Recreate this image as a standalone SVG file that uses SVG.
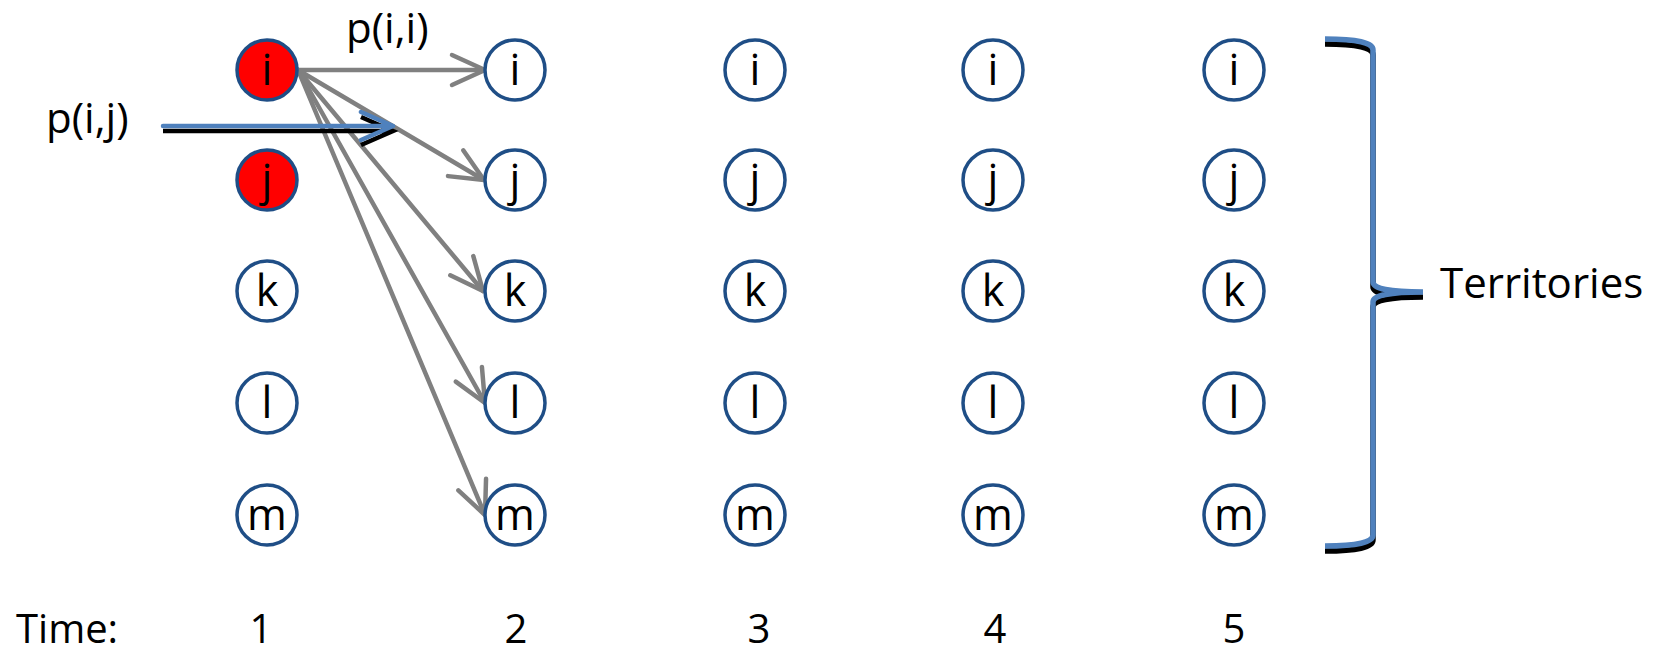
<svg xmlns="http://www.w3.org/2000/svg" width="1657" height="654" viewBox="0 0 1657 654">
<style>
  .n { fill: #ffffff; stroke: #1F4E86; stroke-width: 3.5; }
  .r { fill: #FF0000; }
  .t { font-family: "Open Sans", "Liberation Sans", sans-serif; font-size: 43px; fill: #000; text-anchor: middle; }
  .lbl { font-family: "Open Sans", "Liberation Sans", sans-serif; font-size: 42px; fill: #000; }
  .tm { font-family: "Open Sans", "Liberation Sans", sans-serif; font-size: 40px; fill: #000; }
  .g { stroke: #808080; stroke-width: 4.5; fill: none; stroke-linecap: round; }
</style>
<defs>
  <marker id="ag" markerUnits="userSpaceOnUse" markerWidth="50" markerHeight="50" viewBox="-40 -25 50 50" refX="0" refY="0" orient="auto">
    <path d="M -33,-15 L 0,0 L -33,15" fill="none" stroke="#808080" stroke-width="4.5" stroke-linecap="round" stroke-linejoin="round"/>
  </marker>
</defs>
<rect width="1657" height="654" fill="#ffffff"/>

<g id="connectors">
  <line class="g" x1="298" y1="70" x2="485" y2="70" marker-end="url(#ag)"/>
  <line class="g" x1="298" y1="70" x2="484" y2="180" marker-end="url(#ag)"/>
  <line class="g" x1="298" y1="70" x2="483" y2="291" marker-end="url(#ag)"/>
  <line class="g" x1="298" y1="70" x2="485" y2="403" marker-end="url(#ag)"/>
  <line class="g" x1="298" y1="70" x2="485" y2="515" marker-end="url(#ag)"/>
  <g id="pij-arrow" fill="none" stroke-width="4.5">
    <path d="M 163,131 L 393,131 M 361,117 L 393,131 L 361,145" stroke="#000000"/>
    <path d="M 163,126 L 393,126 M 361,112 L 393,126 L 361,140" stroke="#4F81BD" stroke-linecap="round" stroke-linejoin="round"/>
  </g>
</g>

<g id="node-1i"><circle class="n r" cx="267" cy="70" r="30"/><text class="t" x="267" y="85">i</text></g>
<g id="node-1j"><circle class="n r" cx="267" cy="180" r="30"/><text class="t" x="267" y="195">j</text></g>
<g id="node-1k"><circle class="n" cx="267" cy="291" r="30"/><text class="t" x="267" y="306">k</text></g>
<g id="node-1l"><circle class="n" cx="267" cy="403" r="30"/><text class="t" x="267" y="418">l</text></g>
<g id="node-1m"><circle class="n" cx="267" cy="515" r="30"/><text class="t" x="267" y="530">m</text></g>

<g id="node-2i"><circle class="n" cx="515" cy="70" r="30"/><text class="t" x="515" y="85">i</text></g>
<g id="node-2j"><circle class="n" cx="515" cy="180" r="30"/><text class="t" x="515" y="195">j</text></g>
<g id="node-2k"><circle class="n" cx="515" cy="291" r="30"/><text class="t" x="515" y="306">k</text></g>
<g id="node-2l"><circle class="n" cx="515" cy="403" r="30"/><text class="t" x="515" y="418">l</text></g>
<g id="node-2m"><circle class="n" cx="515" cy="515" r="30"/><text class="t" x="515" y="530">m</text></g>

<g id="node-3i"><circle class="n" cx="755" cy="70" r="30"/><text class="t" x="755" y="85">i</text></g>
<g id="node-3j"><circle class="n" cx="755" cy="180" r="30"/><text class="t" x="755" y="195">j</text></g>
<g id="node-3k"><circle class="n" cx="755" cy="291" r="30"/><text class="t" x="755" y="306">k</text></g>
<g id="node-3l"><circle class="n" cx="755" cy="403" r="30"/><text class="t" x="755" y="418">l</text></g>
<g id="node-3m"><circle class="n" cx="755" cy="515" r="30"/><text class="t" x="755" y="530">m</text></g>

<g id="node-4i"><circle class="n" cx="993" cy="70" r="30"/><text class="t" x="993" y="85">i</text></g>
<g id="node-4j"><circle class="n" cx="993" cy="180" r="30"/><text class="t" x="993" y="195">j</text></g>
<g id="node-4k"><circle class="n" cx="993" cy="291" r="30"/><text class="t" x="993" y="306">k</text></g>
<g id="node-4l"><circle class="n" cx="993" cy="403" r="30"/><text class="t" x="993" y="418">l</text></g>
<g id="node-4m"><circle class="n" cx="993" cy="515" r="30"/><text class="t" x="993" y="530">m</text></g>

<g id="node-5i"><circle class="n" cx="1234" cy="70" r="30"/><text class="t" x="1234" y="85">i</text></g>
<g id="node-5j"><circle class="n" cx="1234" cy="180" r="30"/><text class="t" x="1234" y="195">j</text></g>
<g id="node-5k"><circle class="n" cx="1234" cy="291" r="30"/><text class="t" x="1234" y="306">k</text></g>
<g id="node-5l"><circle class="n" cx="1234" cy="403" r="30"/><text class="t" x="1234" y="418">l</text></g>
<g id="node-5m"><circle class="n" cx="1234" cy="515" r="30"/><text class="t" x="1234" y="530">m</text></g>

<g id="brace" fill="none" stroke-width="5.5">
  <path d="M 1325,44 Q 1373,44 1373,55 L 1373,287 Q 1373,297 1423,297 Q 1373,297 1373,307 L 1373,540 Q 1373,551 1325,551" stroke="#000000"/>
  <path d="M 1325,39 Q 1373,39 1373,50 L 1373,282 Q 1373,292 1423,292 Q 1373,292 1373,302 L 1373,535 Q 1373,546 1325,546" stroke="#4F81BD"/>
</g>

<g id="labels">
  <text class="lbl" x="346" y="43">p(i,i)</text>
  <text class="lbl" x="46" y="133">p(i,j)</text>
  <text class="lbl" x="1440" y="298">Territories</text>
  <text class="tm" x="16" y="643">Time:</text>
  <text class="tm" x="261" y="643" text-anchor="middle">1</text>
  <text class="tm" x="516" y="643" text-anchor="middle">2</text>
  <text class="tm" x="759" y="643" text-anchor="middle">3</text>
  <text class="tm" x="995" y="643" text-anchor="middle">4</text>
  <text class="tm" x="1234" y="643" text-anchor="middle">5</text>
</g>
</svg>
